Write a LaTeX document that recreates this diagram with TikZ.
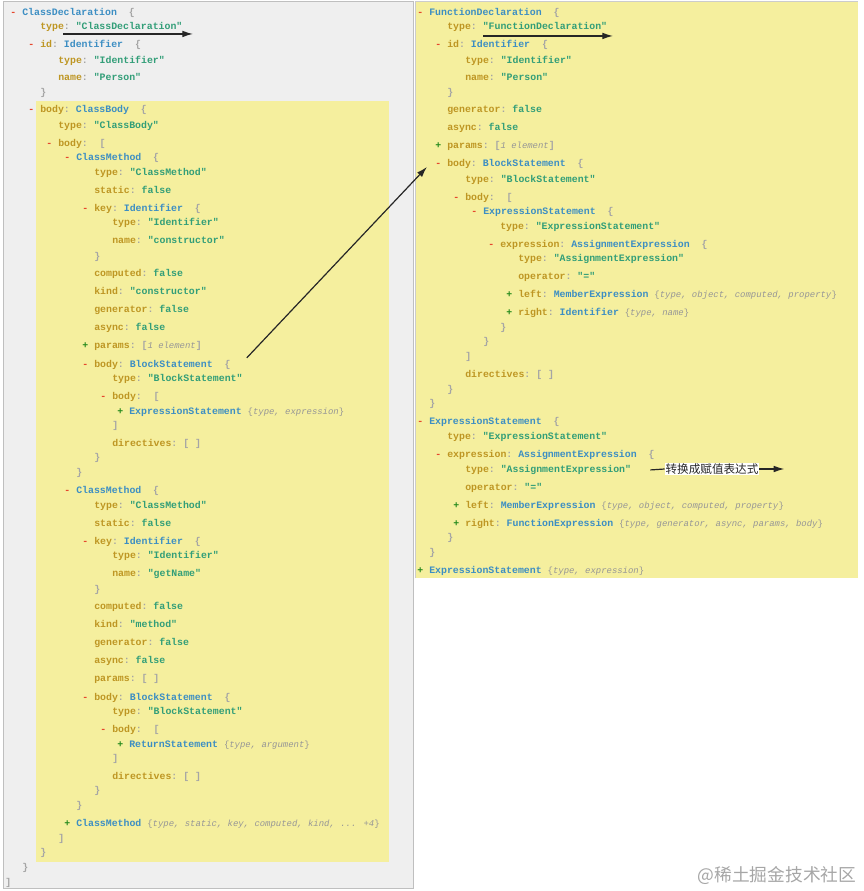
\documentclass[tikz,border=0pt]{standalone}
\usepackage{fontspec}
\usepackage{xcolor}
\usepackage{tikz}
\usetikzlibrary{arrows.meta,calc,positioning}

\newfontfamily\codefont{Liberation Mono}
\newfontfamily\cjk{Noto Sans CJK SC}

\definecolor{keyc}{RGB}{190,150,35}
\definecolor{strc}{RGB}{50,158,120}
\definecolor{typc}{RGB}{60,142,195}
\definecolor{minc}{RGB}{230,70,45}
\definecolor{plusc}{RGB}{40,140,30}
\definecolor{punc}{RGB}{165,165,165}
\definecolor{sumc}{RGB}{150,150,150}
\definecolor{panelyellow}{RGB}{245,239,158}
\definecolor{panelgray}{RGB}{239,239,239}

\newcommand{\ckey}[1]{\textcolor{keyc}{#1}\textcolor{punc}{:}}
\newcommand{\cstr}[1]{\textcolor{strc}{#1}}
\newcommand{\ctyp}[1]{\textcolor{typc}{#1}}
\newcommand{\cpun}[1]{\textcolor{punc}{#1}}
\newcommand{\cmin}{\llap{\textcolor{minc}{-}~}}
\newcommand{\cplus}{\llap{\textcolor{plusc}{+}~}}
\newcommand{\csum}[1]{{\fontsize{6.7}{8}\selectfont\mdseries\textcolor{sumc}{\{\textit{#1}\}}}}
\newcommand{\cnote}[1]{{\fontsize{6.7}{8}\selectfont\mdseries\textcolor{sumc}{\textit{#1}}}}

\begin{document}
\begin{tikzpicture}[
    x=0.75pt, y=-0.75pt,
    codeline/.style={anchor=base west, inner sep=0pt, yshift=-2.6pt, font=\codefont\bfseries\fontsize{7.4}{9}\selectfont},
    arr/.style={-{Latex[length=8pt,width=5pt]}, line width=0.9pt, black!85},
    convlabel/.style={font=\cjk\fontsize{8.7}{10}\selectfont, fill=white, inner sep=0.5pt, text=black!85},
]
\useasboundingbox (0,0) rectangle (863,891);

% Panels
\fill[panelgray, draw=black!25, line width=0.75pt] (3,2) rectangle (413,888);
\fill[panelyellow] (36,101) rectangle (389,862);
\fill[panelyellow] (415,2) rectangle (858,578);
\draw[black!20, line width=0.75pt] (415,578) -- (415,1.5) -- (858,1.5);

% ClassDeclaration tree
\node[codeline] (cdecl) at (22,12) {\cmin\ctyp{ClassDeclaration}~~\cpun{\{}};
\node[codeline] (cdtype) at (40,26) {\ckey{type}~\cstr{"ClassDeclaration"}};
\node[codeline] (cdid) at (40,44) {\cmin\ckey{id}~\ctyp{Identifier}~~\cpun{\{}};
\node[codeline] (cdidtype) at (58,60) {\ckey{type}~\cstr{"Identifier"}};
\node[codeline] (cdidname) at (58,77) {\ckey{name}~\cstr{"Person"}};
\node[codeline] (cdidend) at (40,92) {\cpun{\}}};
\node[codeline] (cbody) at (40,109) {\cmin\ckey{body}~\ctyp{ClassBody}~~\cpun{\{}};
\node[codeline] (cbtype) at (58,125) {\ckey{type}~\cstr{"ClassBody"}};
\node[codeline] (cblist) at (58,143) {\cmin\ckey{body}~~\cpun{[}};

% first ClassMethod
\node[codeline] (cma) at (76,157) {\cmin\ctyp{ClassMethod}~~\cpun{\{}};
\node[codeline] (cmatype) at (94,172) {\ckey{type}~\cstr{"ClassMethod"}};
\node[codeline] (cmastatic) at (94,190) {\ckey{static}~\cstr{false}};
\node[codeline] (cmakey) at (94,208) {\cmin\ckey{key}~\ctyp{Identifier}~~\cpun{\{}};
\node[codeline] (cmakeytype) at (112,222) {\ckey{type}~\cstr{"Identifier"}};
\node[codeline] (cmakeyname) at (112,240) {\ckey{name}~\cstr{"constructor"}};
\node[codeline] (cmakeyend) at (94,256) {\cpun{\}}};
\node[codeline] (cmacomp) at (94,273) {\ckey{computed}~\cstr{false}};
\node[codeline] (cmakind) at (94,291) {\ckey{kind}~\cstr{"constructor"}};
\node[codeline] (cmagen) at (94,309) {\ckey{generator}~\cstr{false}};
\node[codeline] (cmaasync) at (94,327) {\ckey{async}~\cstr{false}};
\node[codeline] (cmaparams) at (94,345) {\cplus\ckey{params}~\cpun{[}\cnote{1 element}\cpun{]}};
\node[codeline] (cmabody) at (94,364) {\cmin\ckey{body}~\ctyp{BlockStatement}~~\cpun{\{}};
\node[codeline] (cmabtype) at (112,378) {\ckey{type}~\cstr{"BlockStatement"}};
\node[codeline] (cmablist) at (112,396) {\cmin\ckey{body}~~\cpun{[}};
\node[codeline] (cmaexpr) at (129,411) {\cplus\ctyp{ExpressionStatement}~\csum{type, expression}};
\node[codeline] (cmablistend) at (112,425) {\cpun{]}};
\node[codeline] (cmadir) at (112,443) {\ckey{directives}~\cpun{[~]}};
\node[codeline] (cmabodyend) at (94,457) {\cpun{\}}};
\node[codeline] (cmaend) at (76,472) {\cpun{\}}};

% second ClassMethod
\node[codeline] (cmb) at (76,490) {\cmin\ctyp{ClassMethod}~~\cpun{\{}};
\node[codeline] (cmbtype) at (94,505) {\ckey{type}~\cstr{"ClassMethod"}};
\node[codeline] (cmbstatic) at (94,523) {\ckey{static}~\cstr{false}};
\node[codeline] (cmbkey) at (94,541) {\cmin\ckey{key}~\ctyp{Identifier}~~\cpun{\{}};
\node[codeline] (cmbkeytype) at (112,555) {\ckey{type}~\cstr{"Identifier"}};
\node[codeline] (cmbkeyname) at (112,573) {\ckey{name}~\cstr{"getName"}};
\node[codeline] (cmbkeyend) at (94,589) {\cpun{\}}};
\node[codeline] (cmbcomp) at (94,606) {\ckey{computed}~\cstr{false}};
\node[codeline] (cmbkind) at (94,624) {\ckey{kind}~\cstr{"method"}};
\node[codeline] (cmbgen) at (94,642) {\ckey{generator}~\cstr{false}};
\node[codeline] (cmbasync) at (94,660) {\ckey{async}~\cstr{false}};
\node[codeline] (cmbparams) at (94,678) {\ckey{params}~\cpun{[~]}};
\node[codeline] (cmbbody) at (94,697) {\cmin\ckey{body}~\ctyp{BlockStatement}~~\cpun{\{}};
\node[codeline] (cmbbtype) at (112,711) {\ckey{type}~\cstr{"BlockStatement"}};
\node[codeline] (cmbblist) at (112,729) {\cmin\ckey{body}~~\cpun{[}};
\node[codeline] (cmbret) at (129,744) {\cplus\ctyp{ReturnStatement}~\csum{type, argument}};
\node[codeline] (cmbblistend) at (112,758) {\cpun{]}};
\node[codeline] (cmbdir) at (112,776) {\ckey{directives}~\cpun{[~]}};
\node[codeline] (cmbbodyend) at (94,790) {\cpun{\}}};
\node[codeline] (cmbend) at (76,805) {\cpun{\}}};
\node[codeline] (cmc) at (76,823) {\cplus\ctyp{ClassMethod}~\csum{type, static, key, computed, kind, ... +4}};
\node[codeline] (cblistend) at (58,838) {\cpun{]}};
\node[codeline] (cbodyend) at (40,852) {\cpun{\}}};
\node[codeline] (cdeclend) at (22,867) {\cpun{\}}};
\node[codeline] (progend) at (5,882) {\cpun{]}};

% FunctionDeclaration tree
\node[codeline] (fdecl) at (429,12) {\cmin\ctyp{FunctionDeclaration}~~\cpun{\{}};
\node[codeline] (fdtype) at (447,26) {\ckey{type}~\cstr{"FunctionDeclaration"}};
\node[codeline] (fdid) at (447,44) {\cmin\ckey{id}~\ctyp{Identifier}~~\cpun{\{}};
\node[codeline] (fdidtype) at (465,60) {\ckey{type}~\cstr{"Identifier"}};
\node[codeline] (fdidname) at (465,77) {\ckey{name}~\cstr{"Person"}};
\node[codeline] (fdidend) at (447,92) {\cpun{\}}};
\node[codeline] (fdgen) at (447,109) {\ckey{generator}~\cstr{false}};
\node[codeline] (fdasync) at (447,127) {\ckey{async}~\cstr{false}};
\node[codeline] (fdparams) at (447,145) {\cplus\ckey{params}~\cpun{[}\cnote{1 element}\cpun{]}};
\node[codeline] (fdbody) at (447,163) {\cmin\ckey{body}~\ctyp{BlockStatement}~~\cpun{\{}};
\node[codeline] (fdbtype) at (465,179) {\ckey{type}~\cstr{"BlockStatement"}};
\node[codeline] (fdblist) at (465,197) {\cmin\ckey{body}~~\cpun{[}};
\node[codeline] (fdexpr) at (483,211) {\cmin\ctyp{ExpressionStatement}~~\cpun{\{}};
\node[codeline] (fdexprtype) at (500,226) {\ckey{type}~\cstr{"ExpressionStatement"}};
\node[codeline] (fdassign) at (500,244) {\cmin\ckey{expression}~\ctyp{AssignmentExpression}~~\cpun{\{}};
\node[codeline] (fdatype) at (518,258) {\ckey{type}~\cstr{"AssignmentExpression"}};
\node[codeline] (fdaop) at (518,276) {\ckey{operator}~\cstr{"="}};
\node[codeline] (fdaleft) at (518,294) {\cplus\ckey{left}~\ctyp{MemberExpression}~\csum{type, object, computed, property}};
\node[codeline] (fdaright) at (518,312) {\cplus\ckey{right}~\ctyp{Identifier}~\csum{type, name}};
\node[codeline] (fdassignend) at (500,327) {\cpun{\}}};
\node[codeline] (fdexprend) at (483,341) {\cpun{\}}};
\node[codeline] (fdblistend) at (465,356) {\cpun{]}};
\node[codeline] (fddir) at (465,374) {\ckey{directives}~\cpun{[~]}};
\node[codeline] (fdbodyend) at (447,389) {\cpun{\}}};
\node[codeline] (fdeclend) at (429,403) {\cpun{\}}};

% ExpressionStatement with assignment
\node[codeline] (estmt) at (429,421) {\cmin\ctyp{ExpressionStatement}~~\cpun{\{}};
\node[codeline] (estype) at (447,436) {\ckey{type}~\cstr{"ExpressionStatement"}};
\node[codeline] (esassign) at (447,454) {\cmin\ckey{expression}~\ctyp{AssignmentExpression}~~\cpun{\{}};
\node[codeline] (esatype) at (465,469) {\ckey{type}~\cstr{"AssignmentExpression"}};
\node[codeline] (esaop) at (465,487) {\ckey{operator}~\cstr{"="}};
\node[codeline] (esaleft) at (465,505) {\cplus\ckey{left}~\ctyp{MemberExpression}~\csum{type, object, computed, property}};
\node[codeline] (esaright) at (465,523) {\cplus\ckey{right}~\ctyp{FunctionExpression}~\csum{type, generator, async, params, body}};
\node[codeline] (esassignend) at (447,537) {\cpun{\}}};
\node[codeline] (estmtend) at (429,552) {\cpun{\}}};
\node[codeline] (estmt2) at (429,570) {\cplus\ctyp{ExpressionStatement}~\csum{type, expression}};

% Arrows
\draw[arr] ($(cdtype.base west)+(23,4.5)$) -- ++(130,0);
\draw[arr] ($(fdtype.base west)+(36,6.5)$) -- ++(130,0);
\draw[arr] ($(cmabody.east)+(16,-7)$) -- ($(fdbody.west)+(-20,3)$);

\node[convlabel] (conv) at (712,469) {转换成赋值表达式};
\draw[line width=0.9pt, black!85] ($(esatype.east)+(19,0)$) -- (conv.west);
\draw[arr] (conv.east) -- ++(25,0);

% Watermark
\node[font=\cjk\fontsize{13.3}{15}\selectfont, text=black!35] (mark) at (777,875) {@稀土掘金技术社区};

\end{tikzpicture}
\end{document}
